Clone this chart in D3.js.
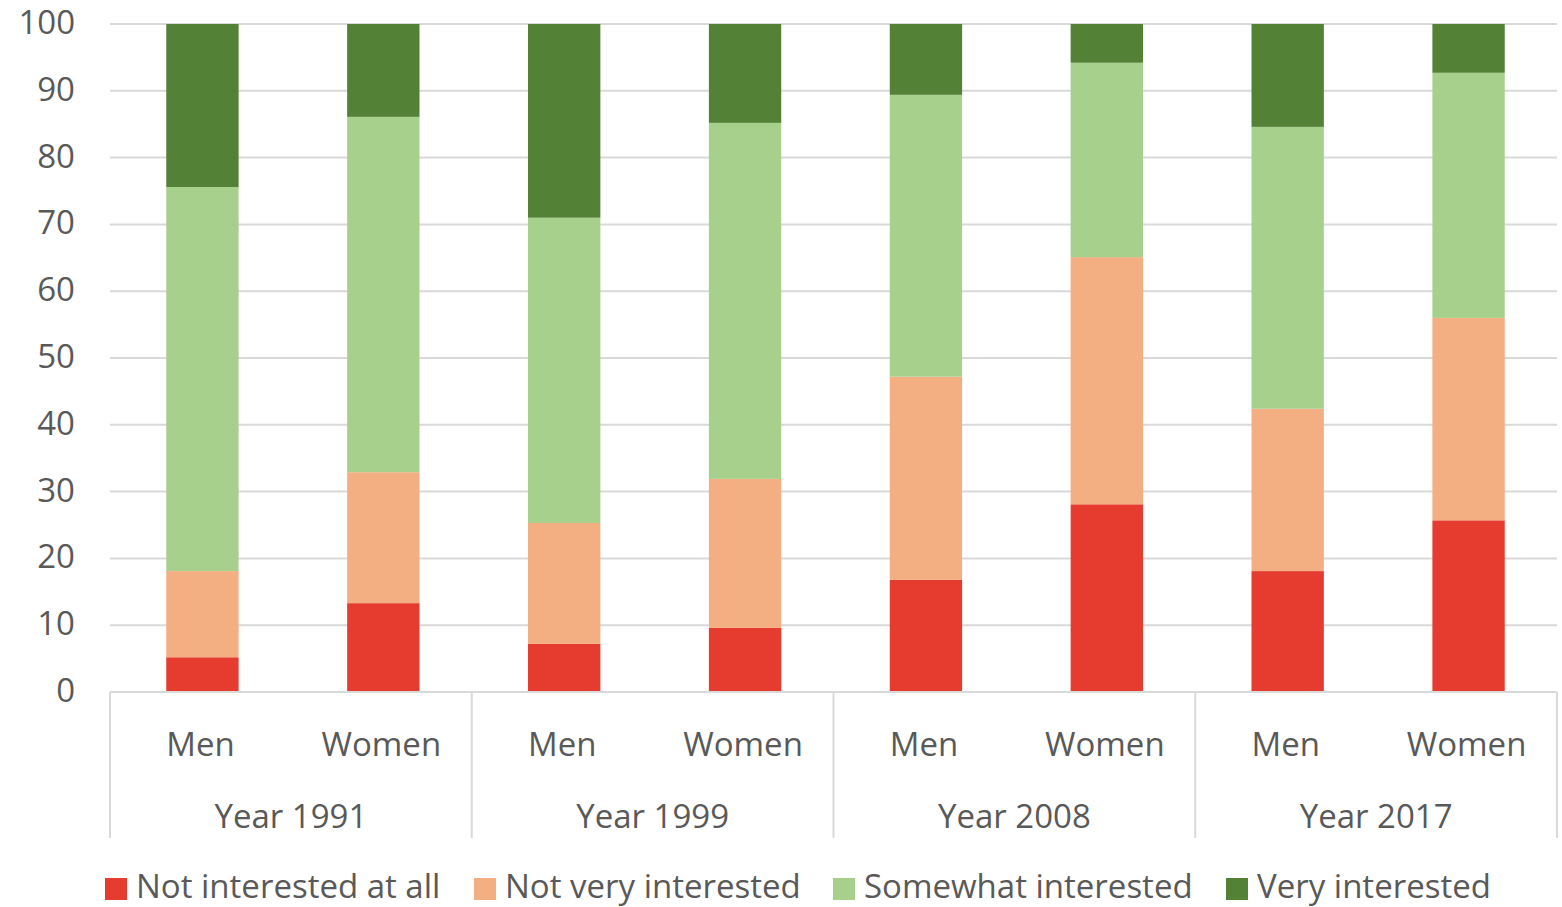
<!DOCTYPE html>
<html><head><meta charset="utf-8">
<script src="https://cdn.jsdelivr.net/npm/d3@7"></script>
<style>body{margin:0;background:#fff}svg{display:block}text{font-family:"Open Sans",sans-serif;fill:#595959}</style>
</head><body><svg id="c" width="1562" height="907"></svg>
<script>
const years = ["Year 1991","Year 1999","Year 2008","Year 2017"];
const genders = ["Men","Women"];
const seriesNames = ["Not interested at all","Not very interested","Somewhat interested","Very interested"];
const colors = ["#E63C2F","#F3AE82","#A8D08D","#538135"];
// values per bar: order = 1991 Men, 1991 Women, 1999 Men, 1999 Women, 2008 Men, 2008 Women, 2017 Men, 2017 Women
const notAtAll   = [5.2, 13.3, 7.2, 9.6, 16.8, 28.1, 18.1, 25.7];
const notVery    = [12.9, 19.6, 18.1, 22.3, 30.4, 37.0, 24.3, 30.3];
const somewhat   = [57.5, 53.2, 45.7, 53.3, 42.2, 29.1, 42.2, 36.7];
const very       = [24.4, 13.9, 29.0, 14.8, 10.6, 5.8, 15.4, 7.3];
const yTicks = [0,10,20,30,40,50,60,70,80,90,100];

const svg = d3.select("#c");
const L=110, R=1557, T=24, B=692;
const FS = "33px";
const y = d3.scaleLinear().domain([0,100]).range([B,T]);
const bars = [];
years.forEach((yr,i)=>genders.forEach((g,j)=>bars.push({year:yr,gender:g,key:yr+"|"+g,idx:i*2+j})));
const data = bars.map(b=>({key:b.key,s0:notAtAll[b.idx],s1:notVery[b.idx],s2:somewhat[b.idx],s3:very[b.idx]}));
const xYear = d3.scaleBand().domain(years).range([L,R]);
const x = d3.scaleBand().domain(bars.map(b=>b.key)).range([L,R]).paddingInner(0.6).paddingOuter(0.3);

// gridlines
svg.append("g").selectAll("line").data(yTicks).join("line")
  .attr("x1",L).attr("x2",R).attr("y1",d=>y(d)).attr("y2",d=>y(d))
  .attr("stroke","#d9d9d9").attr("stroke-width",2);
// y labels
svg.append("g").selectAll("text").data(yTicks).join("text")
  .attr("x",75).attr("y",d=>y(d)+10).attr("text-anchor","end")
  .style("font-size",FS).text(d=>d);

const stack = d3.stack().keys(["s0","s1","s2","s3"]);
const layers = stack(data);
svg.append("g").selectAll("g").data(layers).join("g").attr("fill",(d,i)=>colors[i])
  .selectAll("rect").data(d=>d).join("rect")
  .attr("x",d=>x(d.data.key)+2).attr("width",x.bandwidth())
  .attr("y",d=>y(Math.min(100,d[1]))).attr("height",d=>y(d[0])-y(Math.min(100,d[1])));

// axis line
svg.append("line").attr("x1",L).attr("x2",R).attr("y1",B).attr("y2",B).attr("stroke","#d9d9d9").attr("stroke-width",2);
// separators
const seps = years.map(yr=>xYear(yr)).concat([R]);
svg.append("g").selectAll("line").data(seps).join("line")
  .attr("x1",d=>d).attr("x2",d=>d).attr("y1",B).attr("y2",838)
  .attr("stroke","#d9d9d9").attr("stroke-width",2);
// gender labels
svg.append("g").selectAll("text").data(bars).join("text")
  .attr("x",d=>x(d.key)+x.bandwidth()/2).attr("y",756).attr("text-anchor","middle")
  .style("font-size",FS).text(d=>d.gender);
// year labels
svg.append("g").selectAll("text").data(years).join("text")
  .attr("x",d=>xYear(d)+xYear.bandwidth()/2).attr("y",828).attr("text-anchor","middle")
  .style("font-size",FS).text(d=>d);

// legend
const legX = [105,474,833,1226];
const lg = svg.append("g").selectAll("g").data(seriesNames).join("g")
  .attr("transform",(d,i)=>`translate(${legX[i]},878)`);
lg.append("rect").attr("width",22).attr("height",22).attr("fill",(d,i)=>colors[i]);
lg.append("text").attr("x",31).attr("y",20).style("font-size",FS).text(d=>d);
</script></body></html>
